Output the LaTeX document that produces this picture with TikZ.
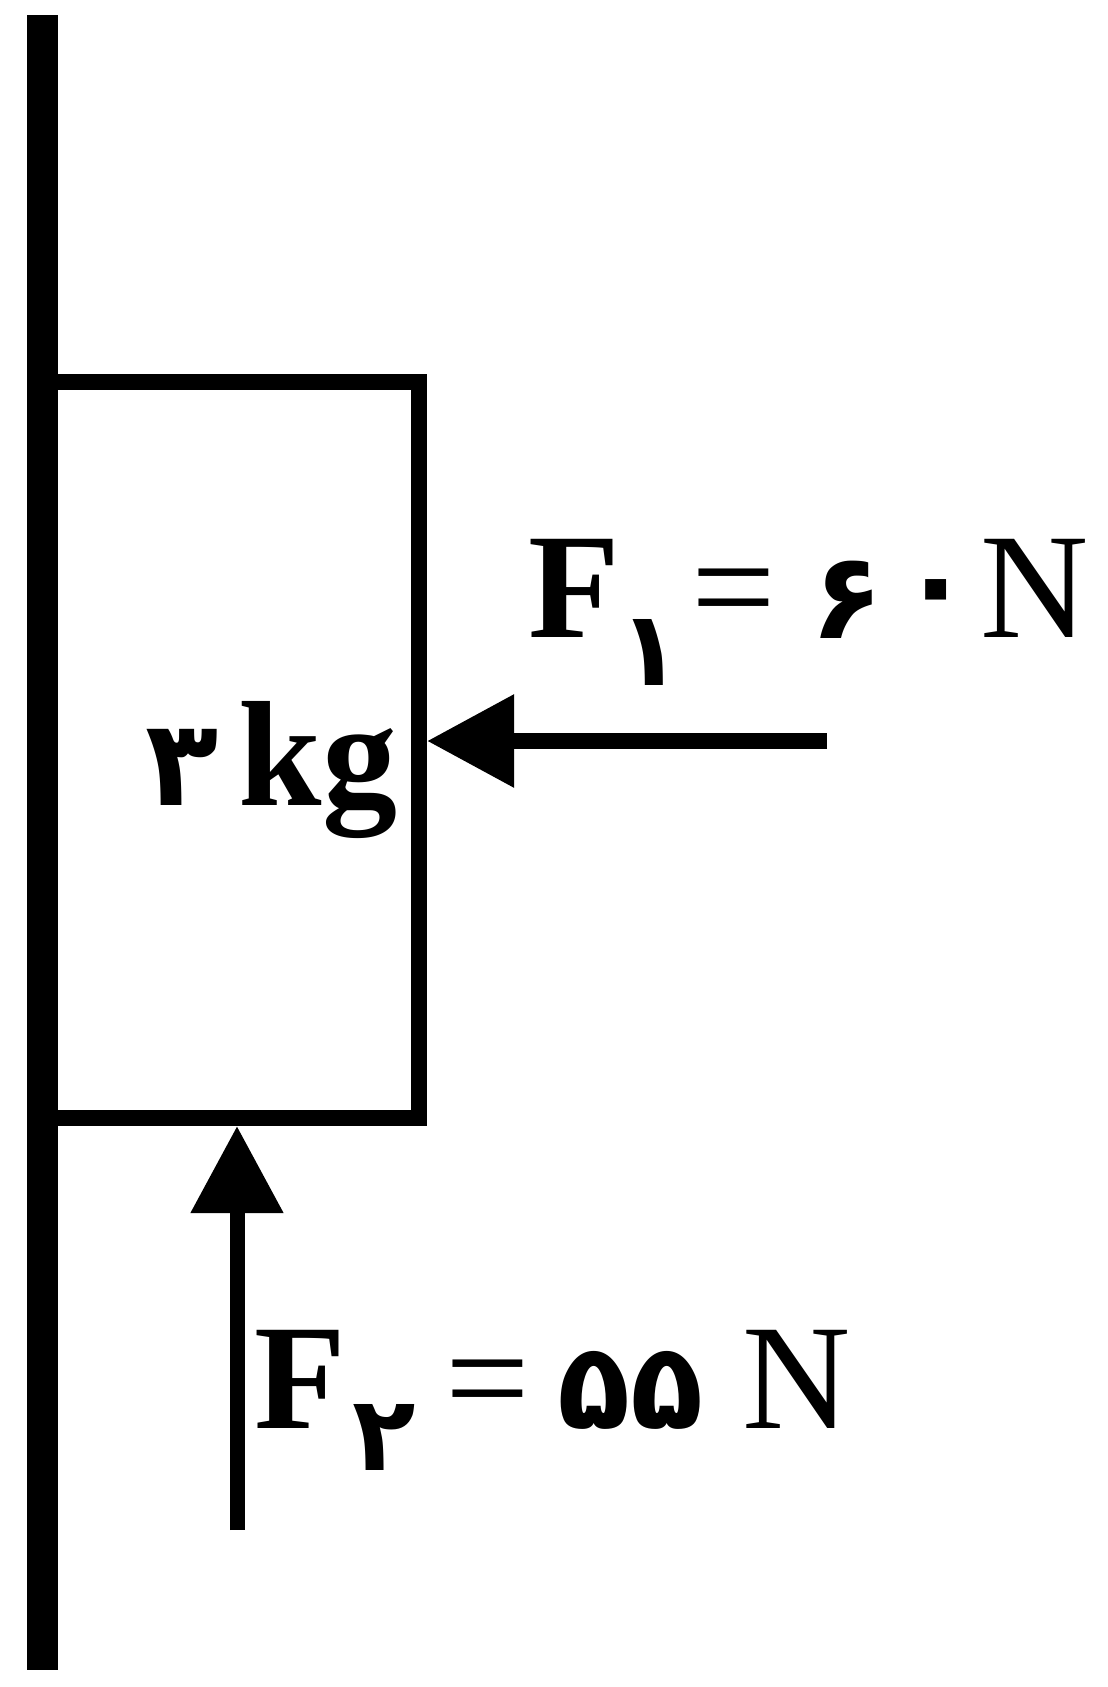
\documentclass[tikz,border=0pt]{standalone}
\usepackage{fontspec}
\setmainfont{Liberation Serif}
\newfontfamily\fa[Script=Arabic]{DejaVu Sans}
\usetikzlibrary{arrows.meta}
\tikzset{
  lbl/.style={inner sep=0pt, outer sep=0pt, anchor=base},
  big/.style={font=\fontsize{75}{80}\selectfont\bfseries},
  bigN/.style={font=\fontsize{75}{80}\selectfont},
  dig/.style={font=\fontsize{60}{64}\selectfont\fa\bfseries},
  subdig/.style={font=\fontsize{52}{56}\selectfont\fa\bfseries},
  force/.style={line width=8pt, -{Triangle[length=43.5pt, width=44.5pt]}},
}
\begin{document}
\begin{tikzpicture}[x=0.5pt, y=-0.5pt]
\useasboundingbox (0,0) rectangle (1108,1687);
% wall
\coordinate (wtop) at (42.5,15);
\coordinate (wbot) at (42.5,1670);
\draw[line width=15.5pt] (wtop) -- (wbot);
% block
\node[draw, line width=8pt, minimum width=188.5pt, minimum height=368pt, inner sep=0pt] (box) at (230.5,750) {};
% force F1
\coordinate (f1s) at (827,741);
\draw[force] (f1s) -- (f1s -| box.east);
% force F2
\coordinate (f2s) at (237,1530);
\draw[force, line width=7.5pt] (f2s) -- (f2s |- box.south);
% mass label
\node[lbl, dig] (m3) at (182,805) {۳};
\node[lbl, big] (mkg) at (318,805) {kg};
% F1 label
\node[lbl, big] (f1F) at (574,637) {F};
\node[lbl, subdig] (f1sub) at (650,685) {۱};
\node[lbl, bigN] (f1eq) at (734,637) {=};
\node[lbl, dig] (f1d6) at (847,638) {۶};
\node[dig, inner sep=0pt] (f1d0) at (936,602) {۰};
\node[lbl, bigN] (f1N) at (1035,637) {N};
% F2 label
\node[lbl, big] (f2F) at (300,1428) {F};
\node[lbl, subdig] (f2sub) at (384,1470) {۲};
\node[lbl, bigN] (f2eq) at (488,1428) {=};
\node[lbl, dig] (f2d) at (631,1428) {۵۵};
\node[lbl, bigN] (f2N) at (797,1428) {N};
\end{tikzpicture}
\end{document}
